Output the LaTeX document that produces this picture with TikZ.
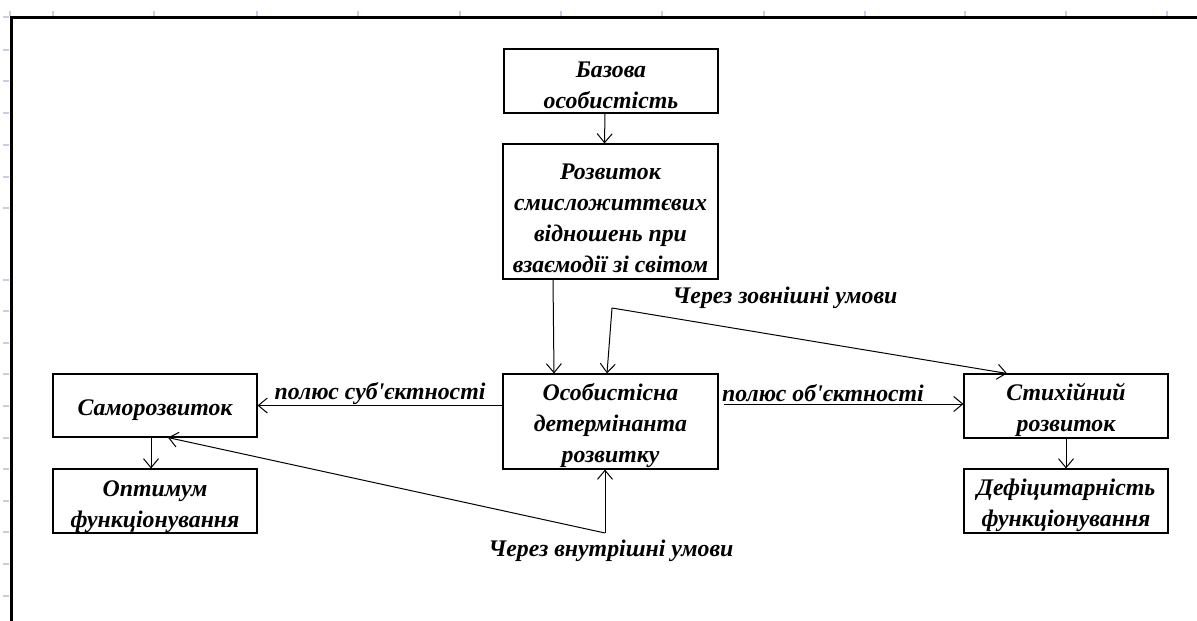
\documentclass[tikz,border=0pt]{standalone}
\usepackage{fontspec}
\setmainfont{Liberation Serif}
\usetikzlibrary{arrows.meta}
\definecolor{gridtick}{RGB}{200,206,226}
% invisible strut that gives the first text line extra room above it
\newcommand{\padtop}[1]{\rule{0pt}{#1}}

\begin{document}
\begin{tikzpicture}[x=1pt,y=-1pt,
  txt/.style={font=\bfseries\itshape\fontsize{23.8}{31}\selectfont},
  box/.style={txt, draw, line width=1.1pt, rectangle, align=center, inner sep=0pt},
  lbl/.style={txt, inner sep=0pt},
  arr/.style={-{Straight Barb[length=9pt,width=15pt]}, line width=1pt},
  gridmark/.style={draw=gridtick, line width=1.2pt}]

\useasboundingbox (0,0) rectangle (1197,621);

% sheet grid marks along the top and left edges
\foreach \gx in {10,53,154,257,358,460,561,662,764,865,965,1066,1167}
  \path[gridmark] (\gx,11) -- (\gx,16);
\foreach \gy in {17,50,81,113,145,177,208,280,311,343,374,406,438,469,501,532,564,596}
  \path[gridmark] (3,\gy) -- (9,\gy);

% outer frame
\draw[line width=3pt, line join=miter] (1197,17) -- (11,17) -- (11,621);

% boxes
\node[box, minimum width=214, minimum height=64]  (base) at (611,81)      {\padtop{25pt}Базова\\особистість};
\node[box, minimum width=215, minimum height=135] (rozv) at (610.5,211.5) {\padtop{29pt}Розвиток\\смисложиттєвих\\відношень при\\взаємодії зі світом};
\node[box, minimum width=215, minimum height=95]  (det)  at (610.5,421.5) {\padtop{26pt}Особистісна\\детермінанта\\розвитку};
\node[box, minimum width=204, minimum height=64]  (styh) at (1066,406)    {\padtop{25pt}Стихійний\\розвиток};
\node[box, minimum width=204, minimum height=64]  (defi) at (1066,501)    {\padtop{25pt}Дефіцитарність\\функціонування};
\node[box, minimum width=204, minimum height=63]  (samo) at (155,405.5)   {\padtop{25pt}Саморозвиток};
\node[box, minimum width=204, minimum height=64]  (opt)  at (155,501)     {\padtop{27pt}Оптимум\\функціонування};

% labels
\node[lbl] (lext) at (785,298) {Через зовнішні умови};
\node[lbl] (lobj) at (823,393) {полюс об\textquotesingle єктності};
\node[lbl] (lsub) at (380,394) {полюс суб\textquotesingle єктності};
\node[lbl] (lint) at (611,551) {Через внутрішні умови};

% bend points of the two-way connectors
\coordinate (ext) at (612,308);
\coordinate (int) at (605,533);

% connectors
\draw[arr] ([xshift=-6pt]base.south) -- ([xshift=-6pt]rozv.north);
\draw[arr] ([xshift=-57.5pt]rozv.south) -- ([xshift=-56.5pt]det.north);
\draw[arr] (ext) -- ([xshift=-3.5pt]det.north);
\draw[arr] (ext) -- ([xshift=-59pt]styh.north);
\draw[arr] ([xshift=5pt,yshift=17.5pt]det.east) coordinate (pobj) -- (pobj -| styh.west);
\draw[arr] (det.west |- samo.east) -- (samo.east);
\draw[arr] (int) -- (int |- det.south);
\draw[arr] (int) -- ([xshift=13pt]samo.south);
\draw[arr] ([xshift=-4pt]samo.south) -- ([xshift=-4pt]opt.north);
\draw[arr] (styh.south) -- (defi.north);
\end{tikzpicture}
\end{document}
